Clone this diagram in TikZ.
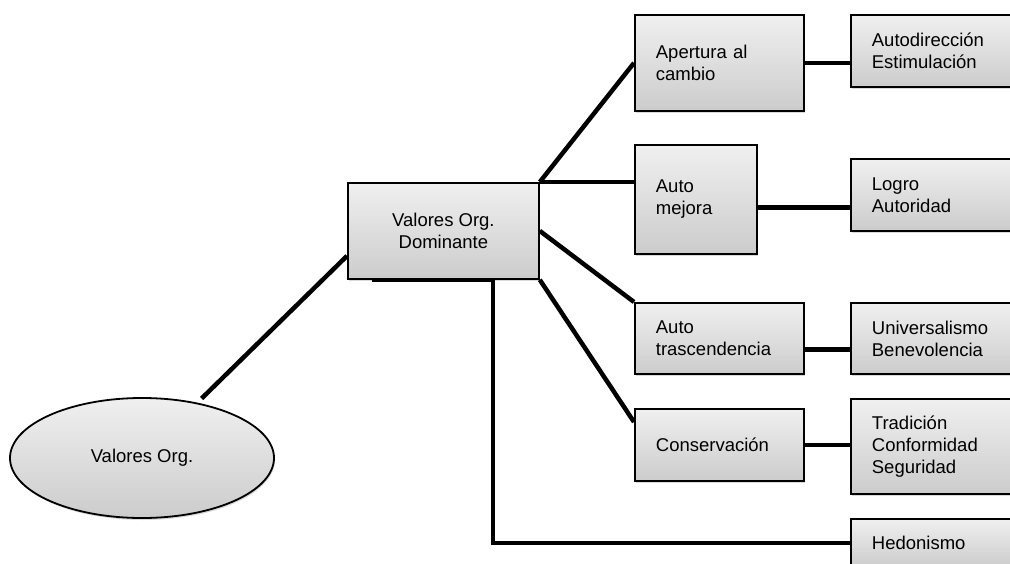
\documentclass[tikz,border=0pt]{standalone}
\usepackage{fontspec}
\setmainfont{Liberation Sans}
\usetikzlibrary{shapes.geometric,shadows}
\tikzset{
  caja/.style={draw=black, line width=1.8pt,
    top color=gray!12, bottom color=gray!40,
    drop shadow={opacity=.3,shadow xshift=1pt,shadow yshift=-2pt},
    anchor=north west, inner sep=0pt,
    font=\fontsize{18.5}{22}\selectfont},
  izq/.style={align=left, text width=#1, inner xsep=21pt},
  ovalo/.style={ellipse, draw=black, line width=1.8pt,
    top color=gray!12, bottom color=gray!40,
    drop shadow={opacity=.3,shadow xshift=1pt,shadow yshift=-2pt},
    inner sep=0pt, font=\fontsize{18.5}{22}\selectfont},
  enlace/.style={line width=4.5pt},
}

\begin{document}
\begin{tikzpicture}[x=1pt,y=-1pt]
  \useasboundingbox (0,0) rectangle (1010,563);

  % raiz y nivel central
  \node[ovalo, minimum width=264pt, minimum height=120pt] (org) at (142,458) {Valores Org.};
  \node[caja, align=center, minimum width=191pt, minimum height=96pt] (dom) at (347,182) {Valores Org.\\Dominante};

  % dimensiones
  \node[caja, izq=127pt, minimum height=96pt] (ap) at (634,14) {Apertura al\\cambio};
  \node[caja, izq=80pt, minimum height=109pt] (mej) at (634,144) {Auto\\mejora};
  \node[caja, izq=127pt, minimum height=71pt] (tra) at (634,302) {Auto\\trascendencia};
  \node[caja, izq=127pt, minimum height=72pt] (con) at (634,408) {Conservaci\'on};

  % valores
  \node[caja, izq=158pt, minimum height=72pt] (aut) at (850,14) {Autodirecci\'on\\Estimulaci\'on};
  \node[caja, izq=158pt, minimum height=72pt] (log) at (850,158) {Logro\\Autoridad};
  \node[caja, izq=158pt, minimum height=71pt] (uni) at (850,302) {Universalismo\\Benevolencia};
  \node[caja, izq=158pt, minimum height=95pt] (tdc) at (850,398) {Tradici\'on\\Conformidad\\Seguridad};
  \node[caja, izq=158pt, minimum height=48pt] (hed) at (850,518) {Hedonismo};

  \draw[enlace, shorten <=6pt] (org.45) -- ([yshift=-25pt]dom.west);
  \draw[enlace] (dom.north east) -- (ap.west);
  \draw[enlace] (dom.north east) -- (dom.north east -| mej.west);
  \draw[enlace] (dom.east) -- (tra.north west);
  \draw[enlace] (dom.south east) -- ([yshift=-14pt]con.north west);
  \draw[enlace] ([xshift=25pt]dom.south west) -- ([xshift=146pt]dom.south west) |- (hed.west);

  \draw[enlace] (ap.east) -- (ap.east -| aut.west);
  \draw[enlace] ([yshift=-8pt]mej.east) -- ([yshift=-8pt]mej.east -| log.west);
  \draw[enlace] ([yshift=-11pt]tra.east) -- ([yshift=-11pt]tra.east -| uni.west);
  \draw[enlace] (con.east) -- (con.east -| tdc.west);
\end{tikzpicture}
\end{document}
